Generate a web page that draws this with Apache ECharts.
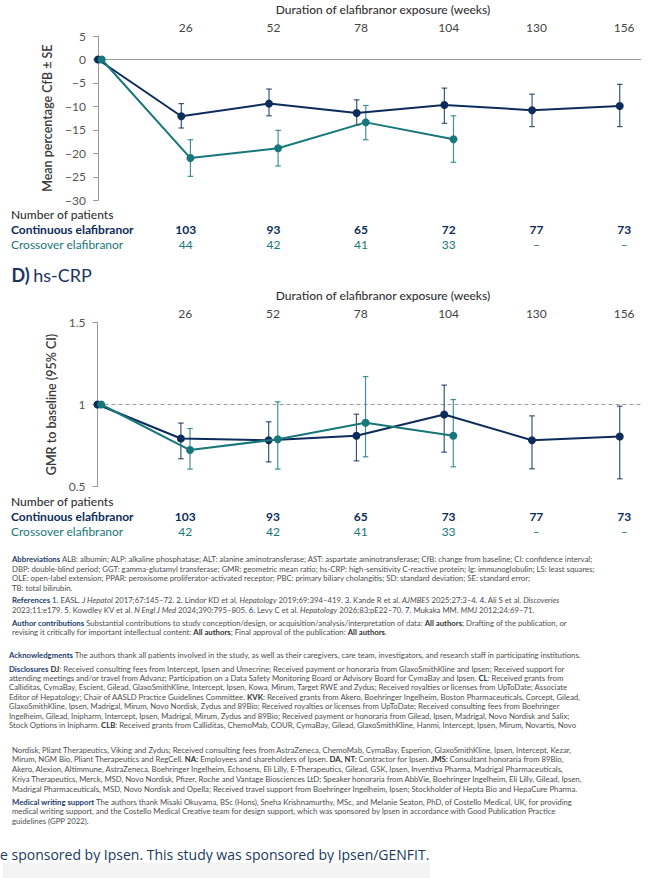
<!DOCTYPE html>
<html>
<head>
<meta charset="utf-8">
<script src="https://cdn.jsdelivr.net/npm/echarts@6/dist/echarts.min.js"></script>
<style>
  html, body { margin:0; padding:0; background:#fff; width:650px; height:878px; overflow:hidden; position:relative; }
  #chart { position:absolute; left:0; top:0; width:650px; height:545px; }
  .p { position:absolute; font-family: Lato, sans-serif; font-size:7.75px; line-height:9.4px; color:#4d4d4d; white-space:nowrap; }
  .h { color:#1d3b6e; font-weight:700; }
  .b { font-weight:700; color:#333; }
  .n { color:#1d3b6e; }
  #big { position:absolute; left:0px; top:847px; font-family:"Open Sans", sans-serif; font-size:14px; line-height:16px; color:#203a5e; white-space:nowrap; }
  #box { position:absolute; left:3px; top:863px; width:427px; height:15px; background:#f3f3f3; }
</style>
</head>
<body>
<div id="chart"></div>

<div class="p" style="left:12px; top:555.3px;"><span class="h">Abbreviations</span> ALB: albumin; ALP: alkaline phosphatase; ALT: alanine aminotransferase; AST: aspartate aminotransferase; CfB: change from baseline; CI: confidence interval;<br>DBP: double-blind period; GGT: gamma-glutamyl transferase; GMR: geometric mean ratio; hs-CRP: high-sensitivity C-reactive protein; Ig: immunoglobulin; LS: least squares;<br>OLE: open-label extension; PPAR: peroxisome proliferator-activated receptor; PBC: primary biliary cholangitis; SD: standard deviation; SE: standard error;<br>TB: total bilirubin.</div>

<div class="p" style="left:12px; top:596.3px;"><span class="h">References</span> <span class="n">1.</span> EASL. <i>J Hepatol</i> 2017;67:145–72. <span class="n">2.</span> Lindor KD et al. <i>Hepatology</i> 2019;69:394–419. <span class="n">3.</span> Kande R et al. <i>AJMBES</i> 2025;27:3–4. <span class="n">4.</span> Ali S et al. <i>Discoveries</i><br>2023;11:e179. <span class="n">5.</span> Kowdley KV et al. <i>N Engl J Med</i> 2024;390:795–805. <span class="n">6.</span> Levy C et al. <i>Hepatology</i> 2026;83:pE22–70. <span class="n">7.</span> Mukaka MM. <i>MMJ</i> 2012;24:69–71.</div>

<div class="p" style="left:12px; top:618.6px;"><span class="h">Author contributions</span> Substantial contributions to study conception/design, or acquisition/analysis/interpretation of data: <span class="b">All authors</span>; Drafting of the publication, or<br>revising it critically for important intellectual content: <span class="b">All authors</span>; Final approval of the publication: <span class="b">All authors</span>.</div>

<div class="p" style="left:9px; top:651.3px;"><span class="h">Acknowledgments</span> The authors thank all patients involved in the study, as well as their caregivers, care team, investigators, and research staff in participating institutions.</div>

<div class="p" style="left:9px; top:664.6px;"><span class="h">Disclosures</span> <span class="b">DJ</span>: Received consulting fees from Intercept, Ipsen and Umecrine; Received payment or honoraria from GlaxoSmithKline and Ipsen; Received support for<br>attending meetings and/or travel from Advanz; Participation on a Data Safety Monitoring Board or Advisory Board for CymaBay and Ipsen. <span class="b">CL</span>: Received grants from<br>Calliditas, CymaBay, Escient, Gilead, GlaxoSmithKline, Intercept, Ipsen, Kowa, Mirum, Target RWE and Zydus; Received royalties or licenses from UpToDate; Associate<br>Editor of Hepatology; Chair of AASLD Practice Guidelines Committee. <span class="b">KVK</span>: Received grants from Akero, Boehringer Ingelheim, Boston Pharmaceuticals, Corcept, Gilead,<br>GlaxoSmithKline, Ipsen, Madrigal, Mirum, Novo Nordisk, Zydus and 89Bio; Received royalties or licenses from UpToDate; Received consulting fees from Boehringer<br>Ingelheim, Gilead, Inipharm, Intercept, Ipsen, Madrigal, Mirum, Zydus and 89Bio; Received payment or honoraria from Gilead, Ipsen, Madrigal, Novo Nordisk and Salix;<br>Stock Options in Inipharm. <span class="b">CLB</span>: Received grants from Calliditas, ChemoMab, COUR, CymaBay, Gilead, GlaxoSmithKline, Hanmi, Intercept, Ipsen, Mirum, Novartis, Novo</div>

<div class="p" style="left:12px; top:745.5px; line-height:9.8px;">Nordisk, Pliant Therapeutics, Viking and Zydus; Received consulting fees from AstraZeneca, ChemoMab, CymaBay, Esperion, GlaxoSmithKline, Ipsen, Intercept, Kezar,<br>Mirum, NGM Bio, Pliant Therapeutics and RegCell. <span class="b">NA:</span> Employees and shareholders of Ipsen. <span class="b">DA, NT:</span> Contractor for Ipsen. <span class="b">JMS:</span> Consultant honoraria from 89Bio,<br>Akero, Alexion, Altimmune, AstraZeneca, Boehringer Ingelheim, Echosens, Eli Lilly, E-Therapeutics, Gilead, GSK, Ipsen, Inventiva Pharma, Madrigal Pharmaceuticals,<br>Kriya Therapeutics, Merck, MSD, Novo Nordisk, Pfizer, Roche and Vantage Biosciences LtD; Speaker honoraria from AbbVie, Boehringer Ingelheim, Eli Lilly, Gilead, Ipsen,<br>Madrigal Pharmaceuticals, MSD, Novo Nordisk and Opella; Received travel support from Boehringer Ingelheim, Ipsen; Stockholder of Hepta Bio and HepaCure Pharma.</div>

<div class="p" style="left:12px; top:797.8px; line-height:9.5px;"><span class="h">Medical writing support</span> The authors thank Misaki Okuyama, BSc (Hons), Sneha Krishnamurthy, MSc, and Melanie Seaton, PhD, of Costello Medical, UK, for providing<br>medical writing support, and the Costello Medical Creative team for design support, which was sponsored by Ipsen in accordance with Good Publication Practice<br>guidelines (GPP 2022).</div>

<div id="big">e sponsored by Ipsen. This study was sponsored by Ipsen/GENFIT.</div>
<div id="box"></div>

<script>
// ---------- data ----------
const weeks = [0, 26, 52, 78, 104, 130, 156];
const tickWeeks = [26, 52, 78, 104, 130, 156];

// Panel: mean percentage CfB ± SE
const cfbContMean = [0, -12.1, -9.4, -11.4, -9.7, -10.8, -9.9];
const cfbContLow  = [null, -14.6, -12.0, -14.0, -13.6, -14.3, -14.3];
const cfbContHigh = [null, -9.4, -6.3, -8.6, -6.1, -7.4, -5.3];
const cfbCrossMean = [0, -21.0, -18.9, -13.4, -17.0];
const cfbCrossLow  = [null, -24.9, -22.7, -17.1, -21.9];
const cfbCrossHigh = [null, -17.1, -15.1, -9.8, -12.0];
const cfbContN  = ['103', '93', '65', '72', '77', '73'];
const cfbCrossN = ['44', '42', '41', '33', '–', '–'];

// Panel D: hs-CRP GMR to baseline (95% CI)
const crpContMean = [1, 0.793, 0.783, 0.810, 0.939, 0.783, 0.805];
const crpContLow  = [null, 0.670, 0.651, 0.657, 0.710, 0.609, 0.548];
const crpContHigh = [null, 0.887, 0.895, 0.941, 1.118, 0.931, 0.990];
const crpCrossMean = [1, 0.723, 0.789, 0.889, 0.810];
const crpCrossLow  = [null, 0.607, 0.607, 0.682, 0.621];
const crpCrossHigh = [null, 0.854, 1.016, 1.170, 1.030];
const crpContN  = ['103', '93', '65', '73', '77', '73'];
const crpCrossN = ['42', '42', '41', '33', '–', '–'];

// ---------- styling ----------
const NAVY = '#0d2c5b';
const TEAL = '#17777a';
const FONT = 'Lato, sans-serif';
const DODGE_CONT = -1.3, DODGE_CROSS = 1.4;
const xCont = w => Math.max(0, w + DODGE_CONT);
const xCross = w => (w === 0 ? 1.1 : w + DODGE_CROSS);

function lineData(means, xf) { return means.map((v, i) => [xf(weeks[i]), v]); }
function errData(lo, hi, xf) {
  const out = [];
  lo.forEach((l, i) => { if (l !== null) out.push([xf(weeks[i]), l, hi[i]]); });
  return out;
}
function errSeries(xi, yi, data, color, opacity) {
  return {
    type: 'custom', xAxisIndex: xi, yAxisIndex: yi, data: data, z: 2, silent: true,
    encode: { x: 0, y: [1, 2] },
    renderItem: function (params, api) {
      const x = api.value(0);
      const top = api.coord([x, api.value(2)]);
      const bot = api.coord([x, api.value(1)]);
      const c = 2.8;
      const st = { stroke: color, lineWidth: 1.2, opacity: opacity };
      return { type: 'group', children: [
        { type: 'line', shape: { x1: top[0], y1: top[1], x2: bot[0], y2: bot[1] }, style: st },
        { type: 'line', shape: { x1: top[0] - c, y1: top[1], x2: top[0] + c, y2: top[1] }, style: st },
        { type: 'line', shape: { x1: bot[0] - c, y1: bot[1], x2: bot[0] + c, y2: bot[1] }, style: st }
      ]};
    }
  };
}
function lineSeries(xi, yi, data, color, z, markLine) {
  const s = {
    type: 'line', xAxisIndex: xi, yAxisIndex: yi, data: data, z: z,
    symbol: 'circle', symbolSize: 8, showSymbol: true,
    lineStyle: { color: color, width: 2 }, itemStyle: { color: color },
    silent: true, animation: false
  };
  if (markLine) s.markLine = markLine;
  return s;
}
function xAxisCfg(gi) {
  return {
    gridIndex: gi, type: 'value', position: 'top', min: 0, max: 161,
    axisLine: { show: false }, axisTick: { show: false }, splitLine: { show: false },
    axisLabel: { customValues: tickWeeks, color: '#444', fontSize: 12, fontFamily: FONT, margin: 3 }
  };
}
function yAxisCfg(gi, min, max, interval, name, fmt) {
  return {
    gridIndex: gi, type: 'value', min: min, max: max, interval: interval,
    axisLine: { show: true, lineStyle: { color: '#9a9a9a', width: 1 } },
    axisTick: { show: true, length: 5, lineStyle: { color: '#9a9a9a' } },
    splitLine: { show: false },
    axisLabel: { color: '#555', fontSize: 12, fontFamily: FONT, margin: 12, formatter: fmt },
    name: name, nameLocation: 'middle', nameGap: 35, nameRotate: 90,
    nameTextStyle: { color: '#3a3a3a', fontSize: 12.5, fontWeight: 600, fontFamily: FONT }
  };
}

const chart = echarts.init(document.getElementById('chart'), null, { renderer: 'svg' });

const option = {
  animation: false,
  grid: [
    { left: 98, top: 36, width: 543, height: 164.3, outerBoundsMode: 'none' },
    { left: 97.5, top: 322.3, width: 543.5, height: 164.4, outerBoundsMode: 'none' }
  ],
  xAxis: [xAxisCfg(0), xAxisCfg(1)],
  yAxis: [
    yAxisCfg(0, -30, 5, 5, 'Mean percentage CfB ± SE', v => String(v).replace('-', '−')),
    yAxisCfg(1, 0.5, 1.5, 0.5, 'GMR to baseline (95% CI)', v => String(v))
  ],
  series: [
    errSeries(0, 0, errData(cfbContLow, cfbContHigh, xCont), NAVY, 0.8),
    errSeries(0, 0, errData(cfbCrossLow, cfbCrossHigh, xCross), TEAL, 0.8),
    lineSeries(0, 0, lineData(cfbContMean, xCont), NAVY, 3, {
      silent: true, symbol: ['none', 'none'], label: { show: false },
      lineStyle: { color: '#9a9a9a', type: 'solid', width: 1 }, data: [{ yAxis: 0 }], z: 1
    }),
    lineSeries(0, 0, lineData(cfbCrossMean, xCross), TEAL, 4),
    errSeries(1, 1, errData(crpContLow, crpContHigh, xCont), NAVY, 0.8),
    errSeries(1, 1, errData(crpCrossLow, crpCrossHigh, xCross), TEAL, 0.8),
    lineSeries(1, 1, lineData(crpContMean, xCont), NAVY, 3, {
      silent: true, symbol: ['none', 'none'], label: { show: false },
      lineStyle: { color: '#9a9a9a', type: [4, 3], width: 1 }, data: [{ yAxis: 1 }], z: 1
    }),
    lineSeries(1, 1, lineData(crpCrossMean, xCross), TEAL, 4)
  ]
};
chart.setOption(option);

// ---------- texts: titles and number-of-patients tables ----------
function txt(x, y, text, style) {
  return { type: 'text', x: x, y: y, silent: true,
    style: Object.assign({ text: text, fontFamily: FONT, fontSize: 12, fill: '#333', verticalAlign: 'middle', align: 'left' }, style) };
}
const g = [];
function table(gi, yTop, contN, crossN) {
  g.push(txt(11, yTop, 'Number of patients', { fill: '#333', fontWeight: 500 }));
  g.push(txt(11, yTop + 15.3, 'Continuous elafibranor', { fill: NAVY, fontWeight: 700 }));
  g.push(txt(11, yTop + 30.3, 'Crossover elafibranor', { fill: TEAL }));
  tickWeeks.forEach((w, i) => {
    const px = chart.convertToPixel({ xAxisIndex: gi }, w);
    g.push(txt(px, yTop + 15.3, contN[i], { fill: NAVY, fontWeight: 700, align: 'center' }));
    g.push(txt(px, yTop + 30.3, crossN[i], { fill: TEAL, align: 'center' }));
  });
}
g.push(txt(383, 9, 'Duration of elafibranor exposure (weeks)', { align: 'center', fill: '#333', fontWeight: 500 }));
g.push(txt(383, 295.5, 'Duration of elafibranor exposure (weeks)', { align: 'center', fill: '#333', fontWeight: 500 }));
g.push({ type: 'text', x: 11.5, y: 275, silent: true, style: {
  text: '{b|D)} {r|hs-CRP}', verticalAlign: 'middle',
  rich: { b: { fontFamily: FONT, fontSize: 18, fontWeight: 700, fill: '#1b3560' },
          r: { fontFamily: FONT, fontSize: 18, fill: '#1b3560' } } } });
table(0, 214.5, cfbContN, cfbCrossN);
table(1, 501.5, crpContN, crpCrossN);
chart.setOption({ graphic: g });
</script>
</body>
</html>
